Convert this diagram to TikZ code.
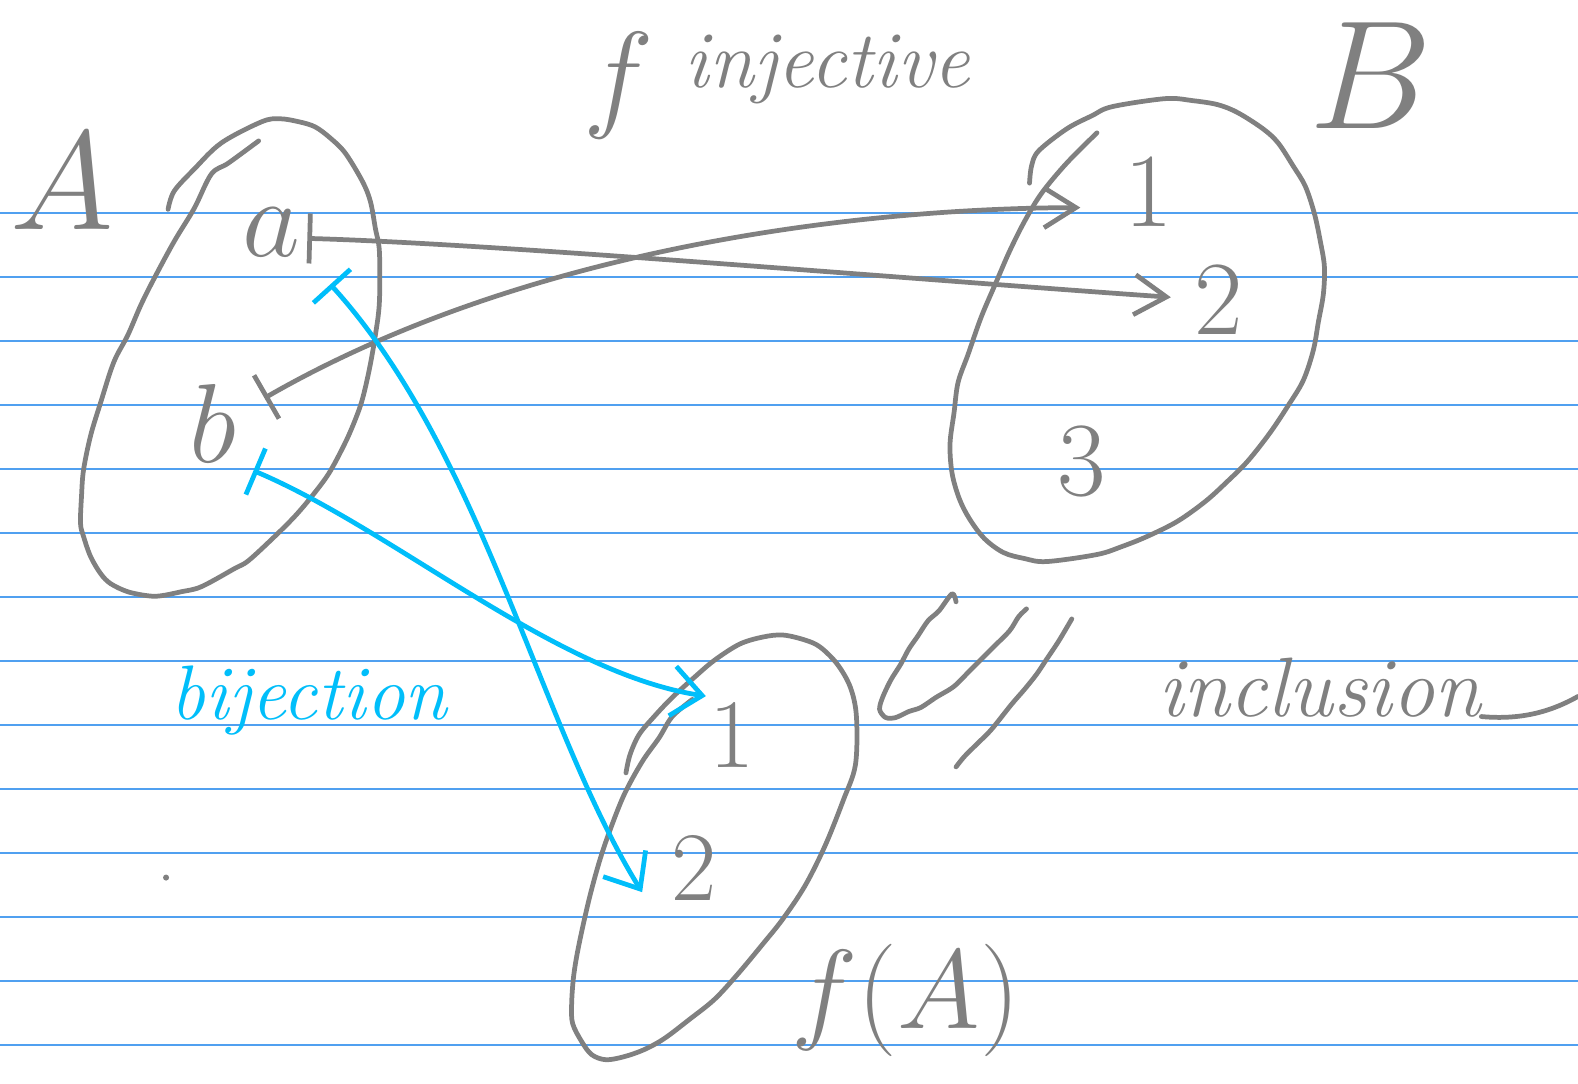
\RequirePackage{fix-cm}
\documentclass[tikz,border=0pt]{standalone}
\usepackage{amsmath, amssymb}
\usepackage{tikz}
\usetikzlibrary{arrows.meta, positioning, calc}
\definecolor{pengray}{RGB}{128,128,128}
\definecolor{penblue}{RGB}{0,190,250}
\definecolor{ruleblue}{RGB}{80,160,240}
\tikzset{
    graypen/.style={draw=pengray, line width=1.35pt, line cap=round, line join=round},
    bluepen/.style={draw=penblue, line width=1.35pt, line cap=round, line join=round},
    ruled/.style={draw=ruleblue, line width=0.45pt},
    elem/.style={text=pengray, inner sep=0pt, anchor=base, font=\fontsize{30}{36}\selectfont},
    setname/.style={text=pengray, inner sep=0pt, anchor=base, font=\fontsize{44}{50}\selectfont},
    word/.style={text=pengray, inner sep=0pt, anchor=base, font=\fontsize{23}{27}\selectfont\itshape},
    blueword/.style={text=penblue, inner sep=0pt, anchor=base, font=\fontsize{22}{26}\selectfont\itshape},
    gmap/.style={graypen, {Bar[width=5mm]}-{Straight Barb[length=3.2mm, width=4mm]}},
    bmap/.style={bluepen, {Bar[width=5mm]}-{Straight Barb[length=3mm, width=5mm]}}
}

\begin{document}
\begin{tikzpicture}[x=0.10064mm, y=-0.10064mm]
  \fill[white] (0,0) rectangle (1568,1077);
  \useasboundingbox (0,0) rectangle (1568,1077);
  \foreach \k in {0,...,13}
    \draw[ruled] (0,{211.6+63.6*\k}) -- (1568,{211.6+63.6*\k});

  % the three sets
  \draw[graypen] plot[smooth, tension=0.55] coordinates {(167,208) (173,190) (193,168) (220,142) (260,121) (278,118) (297,121) (313,126) (328,137) (343,152) (360,180) (368,200) (373,227) (377,250) (377,300) (373,333) (367,367) (360,397) (353,417) (343,440) (327,470) (310,493) (293,513) (273,533) (247,557) (233,565) (200,583) (180,588) (160,592) (147,592) (127,588) (110,580) (100,570) (90,553) (83,533) (80,520) (81,493) (83,467) (90,433) (100,400) (113,360) (127,333) (140,303) (153,277) (173,240) (193,207) (210,173) (227,162) (257,140)};
  \draw[graypen] plot[smooth, tension=0.55] coordinates {(1023,182) (1025,165) (1032,150) (1060,128) (1085,115) (1105,106) (1158,98) (1185,100) (1210,104) (1230,112) (1255,128) (1270,142) (1285,165) (1297,185) (1306,212) (1312,240) (1316,265) (1315,292) (1310,320) (1305,348) (1295,378) (1280,403) (1262,430) (1240,458) (1220,478) (1198,498) (1170,518) (1140,533) (1115,543) (1090,551) (1040,558) (1018,555) (997,549) (978,535) (963,515) (953,495) (946,470) (944,441) (948,410) (952,380) (962,352) (975,315) (990,280) (1003,250) (1018,220) (1035,192) (1060,162) (1090,132)};
  \draw[graypen] plot[smooth, tension=0.55] coordinates {(622,768) (626,750) (635,730) (650,712) (668,693) (690,673) (710,656) (735,640) (758,633) (778,631) (800,636) (815,643) (832,660) (845,683) (851,712) (850,760) (838,795) (820,840) (800,880) (778,913) (758,938) (733,968) (710,993) (685,1013) (660,1032) (640,1043) (620,1050) (602,1053) (588,1048) (578,1035) (569,1017) (568,998) (570,970) (575,940) (585,895) (595,858) (605,828) (620,790) (638,757) (655,733) (668,712) (688,695)};

  % labels
  \node[setname, font=\fontsize{40}{46}\selectfont] (A) at (62,228) {$A$};
  \node[setname] (B) at (1362,128) {$B$};
  \node[setname, font=\fontsize{34}{40}\selectfont] (fsym) at (615,115) {$f$};
  \node[word] (inj) at (822,87) {injective};
  \node[setname, font=\fontsize{32}{38}\selectfont] (fA) at (900,1022) {$f(A)$};
  \node[blueword] (bij) at (307,715) {bijection};
  \node[word, font=\fontsize{24}{28}\selectfont\itshape] (incl) at (1311,712) {inclusion};
  \draw[graypen] (incl.base east) .. controls (1515,716) and (1545,705) .. (1568,692);

  % elements
  \node[elem, font=\fontsize{32}{38}\selectfont] (a) at (270,255) {$a$};
  \node[elem, font=\fontsize{32}{38}\selectfont] (b) at (212,460) {$b$};
  \node[elem] (B1) at (1141,225) {1};
  \node[elem] (B2) at (1211,332) {2};
  \node[elem] (B3) at (1075,492) {3};
  \node[elem, font=\fontsize{28}{34}\selectfont] (f1) at (727,763) {1};
  \node[elem, font=\fontsize{28}{34}\selectfont] (f2) at (690,895) {2};

  % f : A -> B
  \draw[gmap] ([shift={(0.6mm,-0.6mm)}]a.east) .. controls (490,242) and (900,277) .. ([shift={(-2.3mm,0.2mm)}]B2.west);
  \draw[gmap] ([shift={(2.7mm,-1.4mm)}]b.north east) .. controls (521,247) and (850,207) .. ([shift={(-4.3mm,-1.6mm)}]B1.west);
  % A -> f(A)
  \draw[bmap] ([shift={(2.9mm,-2.7mm)}]a.south east) .. controls (480,450) and (535,720) .. ([shift={(-2.9mm,-2.4mm)}]f2.west);
  \draw[bmap] ([shift={(1.6mm,-0.7mm)}]b.south east) .. controls (392,527) and (552,669) .. ([shift={(-0.25mm,0.6mm)}]f1.north west);

  % inclusion sign
  \draw[graypen] plot[smooth, tension=0.5] coordinates {(950,598) (946,590) (933,607) (922,617) (912,632) (903,645) (895,660) (885,676) (877,693) (874,705) (880,713) (890,713) (903,707) (915,703) (930,693) (948,682) (965,665) (985,645) (1003,627) (1012,613) (1020,605)};
  \draw[graypen] plot[smooth, tension=0.5] coordinates {(1065,615) (1052,637) (1040,655) (1030,670) (1018,685) (1005,700) (985,725) (970,740) (958,752) (950,762)};
  \fill[pengray] (165,872) circle (3);
\end{tikzpicture}
\end{document}
